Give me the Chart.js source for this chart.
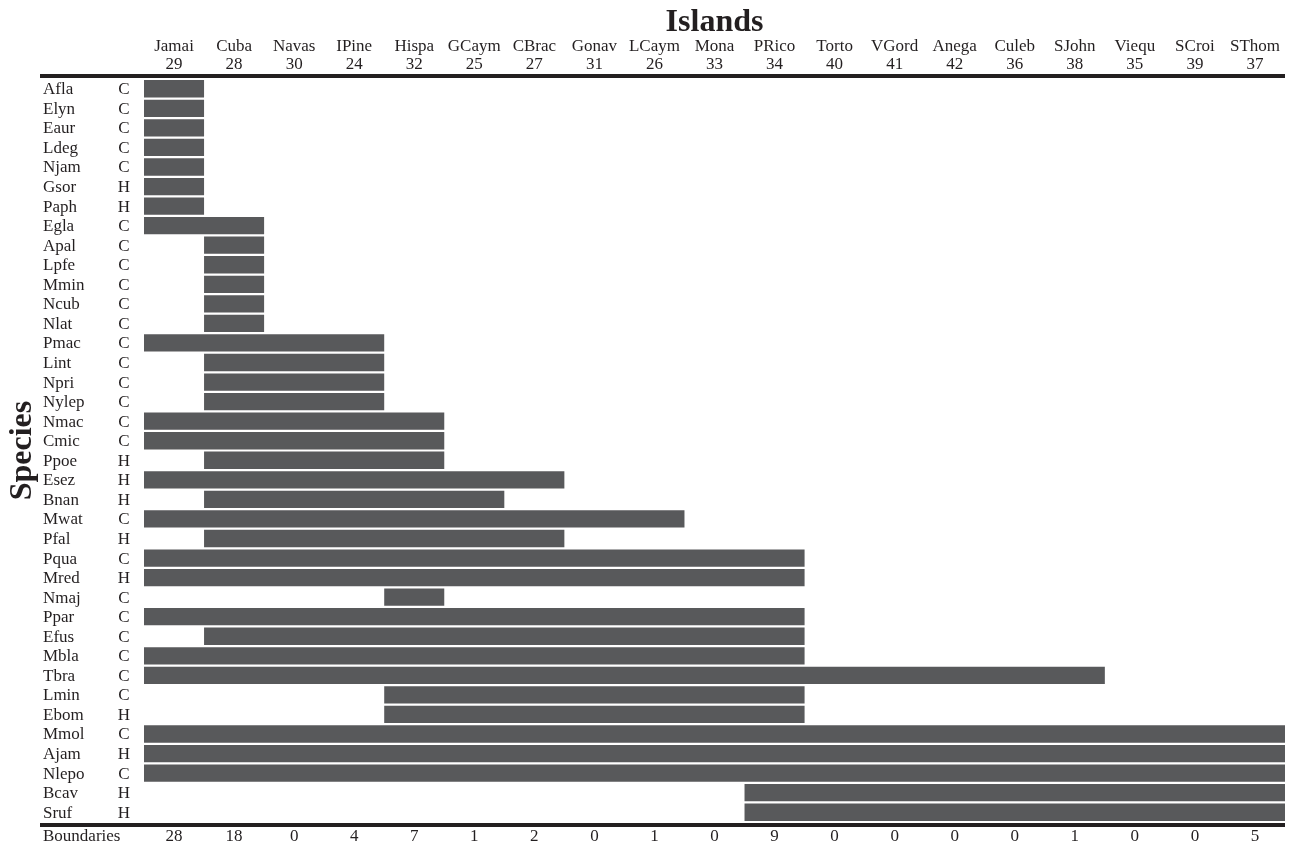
<!DOCTYPE html>
<html>
<head>
<meta charset="utf-8">
<script src="https://cdn.jsdelivr.net/npm/chart.js@4/dist/chart.umd.min.js"></script>
<style>
  html, body { margin: 0; padding: 0; background: #ffffff; }
  #wrap { width: 1291px; height: 848px; }
</style>
</head>
<body>
<div id="wrap"><canvas id="c" width="1291" height="848"></canvas></div>
<script>
// Island columns (left to right) and their codes
const islands = ['Jamai','Cuba','Navas','IPine','Hispa','GCaym','CBrac','Gonav','LCaym','Mona','PRico','Torto','VGord','Anega','Culeb','SJohn','Viequ','SCroi','SThom'];
const islandCodes = ['29','28','30','24','32','25','27','31','26','33','34','40','41','42','36','38','35','39','37'];

// Species rows (top to bottom) with their group letter
const species = ['Afla','Elyn','Eaur','Ldeg','Njam','Gsor','Paph','Egla','Apal','Lpfe','Mmin','Ncub','Nlat','Pmac','Lint','Npri','Nylep','Nmac','Cmic','Ppoe','Esez','Bnan','Mwat','Pfal','Pqua','Mred','Nmaj','Ppar','Efus','Mbla','Tbra','Lmin','Ebom','Mmol','Ajam','Nlepo','Bcav','Sruf'];
const groups = ['C','C','C','C','C','H','H','C','C','C','C','C','C','C','C','C','C','C','C','H','H','H','C','H','C','H','C','C','C','C','C','C','H','C','H','C','H','H'];

// Occupied island span per species: first island index and index after the last
const rangeStart = [0,0,0,0,0,0,0,0,1,1,1,1,1,0,1,1,1,0,0,1,0,1,0,1,0,0,4,0,1,0,0,4,4,0,0,0,10,10];
const rangeEnd   = [1,1,1,1,1,1,1,2,2,2,2,2,2,4,4,4,4,5,5,5,7,6,9,7,11,11,5,11,11,11,16,11,11,19,19,19,19,19];

// Boundary counts under each island column
const boundaries = ['28','18','0','4','7','1','2','0','1','0','9','0','0','0','0','1','0','0','5'];

const INK = '#231f20';
const BAR = '#58595b';
const FONT = '"Liberation Serif", "Times New Roman", serif';

const spans = species.map((s, i) => [rangeStart[i], rangeEnd[i]]);

const tablePlugin = {
  id: 'tableText',
  afterDraw(chart) {
    const ctx = chart.ctx;
    const xs = chart.scales.x;
    const ys = chart.scales.y;
    const area = chart.chartArea;
    ctx.save();
    ctx.fillStyle = INK;

    // title
    ctx.font = 'bold 32px ' + FONT;
    ctx.textAlign = 'center';
    ctx.textBaseline = 'alphabetic';
    ctx.fillText('Islands', (area.left + area.right) / 2, 31);

    // island headers
    ctx.font = '17px ' + FONT;
    islands.forEach((name, i) => {
      const cx = xs.getPixelForValue(i + 0.5);
      ctx.fillText(name, cx, 51);
      ctx.fillText(islandCodes[i], cx, 68.5);
    });

    // species names and groups
    ctx.textBaseline = 'middle';
    species.forEach((name, i) => {
      const cy = ys.getPixelForValue(i) + 1;
      ctx.textAlign = 'left';
      ctx.fillText(name, 43, cy);
      ctx.textAlign = 'center';
      ctx.fillText(groups[i], 124, cy);
    });

    // boundaries row
    ctx.textBaseline = 'alphabetic';
    ctx.textAlign = 'left';
    ctx.fillText('Boundaries', 43, 841);
    ctx.textAlign = 'center';
    boundaries.forEach((v, i) => {
      ctx.fillText(v, xs.getPixelForValue(i + 0.5), 841);
    });

    // rules above and below the rows
    ctx.fillRect(40, area.top - 5, area.right - 40, 4);
    ctx.fillRect(40, area.bottom + 1, area.right - 40, 4);

    // vertical axis title
    ctx.save();
    ctx.translate(31, (area.top + area.bottom) / 2);
    ctx.rotate(-Math.PI / 2);
    ctx.font = 'bold 32px ' + FONT;
    ctx.textAlign = 'center';
    ctx.textBaseline = 'alphabetic';
    ctx.fillText('Species', 0, 0);
    ctx.restore();

    ctx.restore();
  }
};

new Chart(document.getElementById('c'), {
  type: 'bar',
  data: {
    labels: species,
    datasets: [{
      data: spans,
      backgroundColor: BAR,
      borderWidth: 0,
      borderSkipped: false,
      barPercentage: 0.885,
      categoryPercentage: 1
    }]
  },
  options: {
    indexAxis: 'y',
    responsive: false,
    animation: false,
    layout: { padding: { left: 144, right: 6, top: 79, bottom: 26 } },
    scales: {
      x: { type: 'linear', min: 0, max: islands.length, display: false },
      y: { type: 'category', display: false }
    },
    plugins: {
      legend: { display: false },
      tooltip: { enabled: false }
    }
  },
  plugins: [tablePlugin]
});
</script>
</body>
</html>
